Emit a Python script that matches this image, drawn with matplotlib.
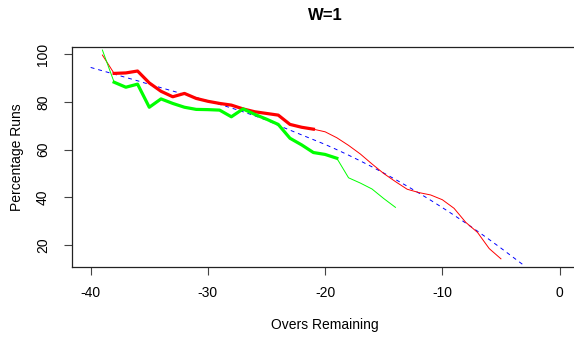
import matplotlib
matplotlib.use("Agg")
import matplotlib.pyplot as plt

# overs remaining (x) for each series
red_overs = list(range(-39, -4))
green_overs = list(range(-39, -13))
fit_overs = list(range(-40, -2))

# percentage of runs still to come
red_pct = [99.7, 92.0, 92.2, 93.0, 88.0, 84.5, 82.2, 83.6, 81.5, 80.3,
           79.4, 78.7, 77.1, 75.9, 75.2, 74.5, 70.6, 69.4, 68.6, 67.5,
           65.0, 61.8, 58.2, 54.0, 50.0, 46.6, 43.4, 42.0, 41.0, 39.0,
           35.4, 29.5, 25.3, 18.5, 14.2]
green_pct = [101.8, 88.3, 86.2, 87.5, 77.8, 81.3, 79.4, 77.8, 76.9, 76.8,
             76.6, 73.8, 77.1, 74.8, 72.8, 70.6, 64.8, 62.0, 58.8, 58.0,
             56.4, 48.2, 46.0, 43.5, 39.5, 35.8]
fit_pct = [94.5, 93.1, 91.7, 90.3, 88.9, 87.4, 86.0, 84.6, 83.2, 81.9,
           80.5, 79.0, 77.5, 75.9, 74.2, 72.4, 70.2, 68.2, 66.2, 64.2,
           62.2, 60.0, 57.7, 55.3, 52.8, 50.2, 47.5, 44.7, 41.8, 38.8,
           35.7, 32.5, 29.2, 25.8, 22.3, 18.7, 15.0, 11.3]

# the bold part of each line (overs with enough matches)
red_thick_range = (-38, -21)
green_thick_range = (-38, -19)

plt.rcParams["font.family"] = ["Liberation Sans", "DejaVu Sans"]
plt.rcParams["axes.unicode_minus"] = False

fig = plt.figure(figsize=(5.74, 3.37), dpi=100)
# right edge of the box runs just past the picture, as in the original
ax = fig.add_axes([0.1253, 0.2077, 0.8822, 0.6537])

ax.plot(fit_overs, fit_pct, color="blue", lw=0.7, linestyle=(0, (4, 4)), zorder=1)
ax.plot(red_overs, red_pct, color="red", lw=0.7, zorder=2)
ax.plot(green_overs, green_pct, color="#00ff00", lw=0.7, zorder=2)


def thick_part(overs, pct, rng):
    xs = [o for o in overs if rng[0] <= o <= rng[1]]
    ys = [p for o, p in zip(overs, pct) if rng[0] <= o <= rng[1]]
    return xs, ys


ax.plot(*thick_part(red_overs, red_pct, red_thick_range), color="red", lw=2.3, zorder=3)
ax.plot(*thick_part(green_overs, green_pct, green_thick_range), color="#00ff00", lw=2.3, zorder=3)

ax.set_xlim(-41.6, 1.6)
ax.set_ylim(10.77, 103.2)
ax.set_xticks([-40, -30, -20, -10, 0])
ax.set_yticks([20, 40, 60, 80, 100])
ax.tick_params(axis="x", length=5.7, width=0.8, pad=8.2, labelsize=10, color="#444444")
ax.tick_params(axis="y", length=5.7, width=0.8, pad=10, labelsize=10, color="#444444")
for lab in ax.get_yticklabels():
    lab.set_rotation(90)
    lab.set_va("center")
for sp in ax.spines.values():
    sp.set_linewidth(0.9)
    sp.set_color("#222222")

fig.text(325 / 574, 1 - 16 / 337, "W=1", ha="center", va="center",
         fontsize=12, fontweight="bold")
fig.text(325 / 574, 1 - 325 / 337, "Overs Remaining", ha="center", va="center", fontsize=10)
fig.text(17 / 574, 1 - 157 / 337, "Percentage Runs", ha="center", va="center",
         rotation=90, fontsize=10)

plt.savefig("out.png", dpi=100)
